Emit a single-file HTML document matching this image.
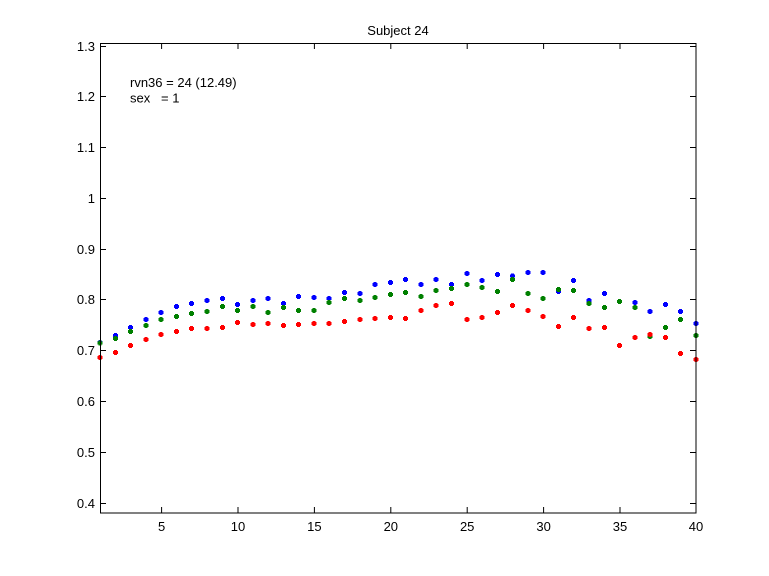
<!DOCTYPE html>
<html>
<head>
<meta charset="utf-8">
<style>
html,body{margin:0;padding:0;background:#fff;}
svg{display:block;}
text{font-family:"Liberation Sans",Arial,sans-serif;font-size:13px;fill:#000;}
</style>
</head>
<body>
<svg width="769" height="576" viewBox="0 0 769 576" xmlns="http://www.w3.org/2000/svg">
<defs>
<marker id="mb" markerWidth="5" markerHeight="5" refX="2.5" refY="2.5" markerUnits="userSpaceOnUse" overflow="visible"><path d="M1 0h3v1h1v3h-1v1h-3v-1h-1v-3h1z" fill="#0000ff" shape-rendering="crispEdges"/></marker>
<marker id="mg" markerWidth="5" markerHeight="5" refX="2.5" refY="2.5" markerUnits="userSpaceOnUse" overflow="visible"><path d="M1 0h3v1h1v3h-1v1h-3v-1h-1v-3h1z" fill="#008000" shape-rendering="crispEdges"/></marker>
<marker id="mr" markerWidth="5" markerHeight="5" refX="2.5" refY="2.5" markerUnits="userSpaceOnUse" overflow="visible"><path d="M1 0h3v1h1v3h-1v1h-3v-1h-1v-3h1z" fill="#ff0000" shape-rendering="crispEdges"/></marker>
</defs>
<rect x="0" y="0" width="769" height="576" fill="#fff"/>
<rect x="100" y="43" width="596" height="470" fill="#fff"/>

<!-- blue -->
<polyline fill="none" stroke="none" marker-start="url(#mb)" marker-mid="url(#mb)" marker-end="url(#mb)"
points="100,342.7 115.28,335.3 130.56,327.3 145.85,319.3 161.13,312.3 176.41,306.3 191.69,303.3 206.97,300.3 222.26,298.3 237.54,304.3 252.82,300.3 268.10,298.3 283.38,303.3 298.67,296.3 313.95,297.3 329.23,298.3 344.51,292.3 359.79,293.3 375.08,284.3 390.36,282.3 405.64,279.3 420.92,284.3 436.20,279.3 451.49,284.3 466.77,273.3 482.05,280.3 497.33,274.3 512.61,276 527.90,272.3 543.18,272.3 558.46,291.3 573.74,280.3 589.02,300.3 604.31,293.3 619.59,301.3 634.87,302.3 650.15,311.3 665.43,304.3 680.72,311.3 696,323.3"/>
<!-- green -->
<polyline fill="none" stroke="none" marker-start="url(#mg)" marker-mid="url(#mg)" marker-end="url(#mg)"
points="100,343 115.28,338.3 130.56,331.3 145.85,325.3 161.13,319.3 176.41,316.3 191.69,313.3 206.97,311.3 222.26,306.3 237.54,310.3 252.82,306.3 268.10,312.3 283.38,307.3 298.67,310.3 313.95,310.3 329.23,302.3 344.51,298.3 359.79,300.3 375.08,297.3 390.36,294.3 405.64,292.3 420.92,296.3 436.20,290.3 451.49,288.3 466.77,284.3 482.05,287.3 497.33,291.3 512.61,279.3 527.90,293.3 543.18,298.3 558.46,289.3 573.74,290.3 589.02,303.3 604.31,307.3 619.59,301.3 634.87,307.3 650.15,336.3 665.43,327.3 680.72,319.3 696,335.3"/>
<!-- red -->
<polyline fill="none" stroke="none" marker-start="url(#mr)" marker-mid="url(#mr)" marker-end="url(#mr)"
points="100,357.3 115.28,352.3 130.56,345.3 145.85,339.3 161.13,334.3 176.41,331.3 191.69,328.3 206.97,328.3 222.26,327.3 237.54,322.3 252.82,324.3 268.10,323.3 283.38,325.3 298.67,324.3 313.95,323.3 329.23,323.3 344.51,321.3 359.79,319.3 375.08,318.3 390.36,317.3 405.64,318.3 420.92,310.3 436.20,305.3 451.49,303.3 466.77,319.3 482.05,317.3 497.33,312.3 512.61,305.3 527.90,310.3 543.18,316.3 558.46,326.3 573.74,317.3 589.02,328.3 604.31,327.3 619.59,345.3 634.87,337.3 650.15,334.3 665.43,337.3 680.72,353.3 696,359.3"/>

<!-- axes box -->
<rect x="100.5" y="43.5" width="595.5" height="469.5" fill="none" stroke="#000" stroke-width="1"/>

<!-- x ticks -->
<g stroke="#000" stroke-width="1">
<path d="M161.6 513v-6M161.6 43v6
M238 513v-6M238 43v6
M314.4 513v-6M314.4 43v6
M390.8 513v-6M390.8 43v6
M467.2 513v-6M467.2 43v6
M543.6 513v-6M543.6 43v6
M620 513v-6M620 43v6"/>
<!-- y ticks -->
<path d="M100 503.5h6M696 503.5h-6
M100 452.5h6M696 452.5h-6
M100 401.5h6M696 401.5h-6
M100 350.5h6M696 350.5h-6
M100 299.5h6M696 299.5h-6
M100 249.5h6M696 249.5h-6
M100 198.5h6M696 198.5h-6
M100 147.5h6M696 147.5h-6
M100 96.5h6M696 96.5h-6
M100 46.5h6M696 46.5h-6"/>
</g>

<!-- x tick labels -->
<g text-anchor="middle">
<text x="161.6" y="531">5</text>
<text x="238" y="531">10</text>
<text x="314.4" y="531">15</text>
<text x="390.8" y="531">20</text>
<text x="467.2" y="531">25</text>
<text x="543.6" y="531">30</text>
<text x="620" y="531">35</text>
<text x="696" y="531">40</text>
</g>

<!-- y tick labels -->
<g text-anchor="end">
<text x="95" y="508">0.4</text>
<text x="95" y="457">0.5</text>
<text x="95" y="406">0.6</text>
<text x="95" y="355">0.7</text>
<text x="95" y="304">0.8</text>
<text x="95" y="254">0.9</text>
<text x="95" y="203">1</text>
<text x="95" y="152">1.1</text>
<text x="95" y="101">1.2</text>
<text x="95" y="51">1.3</text>
</g>

<!-- title -->
<text x="398" y="35" text-anchor="middle">Subject 24</text>

<!-- annotation -->
<text x="130" y="87">rvn36 = 24 (12.49)</text>
<text x="130" y="102.5">sex</text>
<text x="161" y="102.5">= 1</text>
</svg>
</body>
</html>
